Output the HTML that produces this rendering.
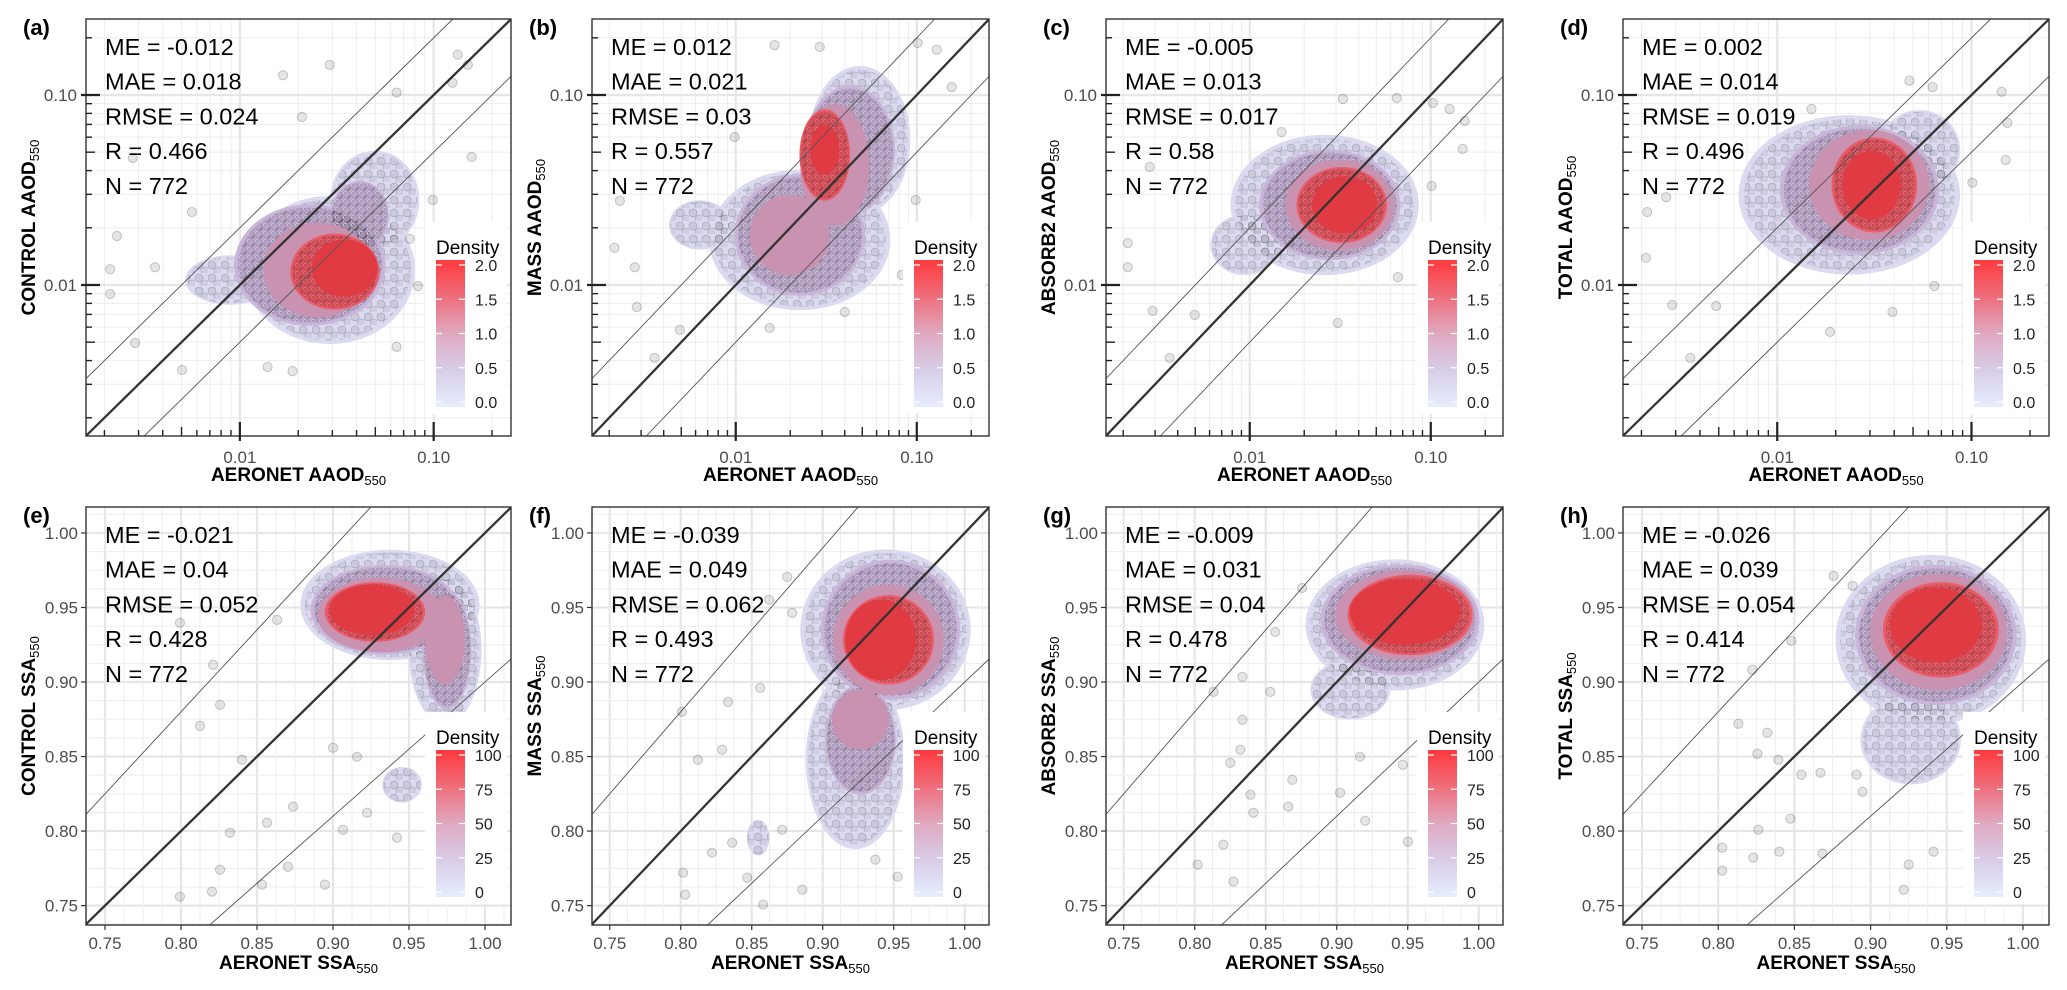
<!DOCTYPE html>
<html><head><meta charset="utf-8"><title>AAOD / SSA evaluation</title>
<style>
html,body{margin:0;padding:0;background:#fff;width:2067px;height:990px;overflow:hidden;}
svg{display:block;position:absolute;left:0;top:0;font-family:"Liberation Sans",Arial,sans-serif;}
</style></head>
<body>
<svg id="fig" width="2067" height="990" viewBox="0 0 2067 990" xmlns="http://www.w3.org/2000/svg">
<defs>
<linearGradient id="cbar" x1="0" y1="1" x2="0" y2="0">
<stop offset="0" stop-color="#e6eefe"/><stop offset="0.25" stop-color="#d8cde8"/>
<stop offset="0.5" stop-color="#e0a9c0"/><stop offset="0.75" stop-color="#ee6e7c"/>
<stop offset="1" stop-color="#ff3a3e"/></linearGradient>
<pattern id="dots1" width="13" height="13" patternUnits="userSpaceOnUse"><circle cx="4" cy="5" r="4" fill="rgba(0,0,0,0.08)" stroke="rgba(0,0,0,0.18)" stroke-width="0.8"/><circle cx="10" cy="11" r="4" fill="rgba(0,0,0,0.06)" stroke="rgba(0,0,0,0.15)" stroke-width="0.8"/></pattern>
<pattern id="dots2" width="8" height="8" patternUnits="userSpaceOnUse"><circle cx="3" cy="3" r="3.6" fill="rgba(0,0,0,0.10)" stroke="rgba(0,0,0,0.2)" stroke-width="0.8"/><circle cx="7" cy="7" r="3.4" fill="rgba(0,0,0,0.08)" stroke="rgba(0,0,0,0.18)" stroke-width="0.8"/></pattern>
</defs>
</svg>
<script>
// ---------- data ----------
const panelIds = ['a','b','c','d','e','f','g','h'];
const modelNames = ['CONTROL','MASS','ABSORB2','TOTAL','CONTROL','MASS','ABSORB2','TOTAL'];
const statME   = ['-0.012','0.012','-0.005','0.002','-0.021','-0.039','-0.009','-0.026'];
const statMAE  = ['0.018','0.021','0.013','0.014','0.04','0.049','0.031','0.039'];
const statRMSE = ['0.024','0.03','0.017','0.019','0.052','0.062','0.04','0.054'];
const statR    = ['0.466','0.557','0.58','0.496','0.428','0.493','0.478','0.414'];
const statN    = ['772','772','772','772','772','772','772','772'];
const aaodTicks = [0.01, 0.10];
const aaodTickLabels = ['0.01','0.10'];
const ssaTicks = [0.75,0.80,0.85,0.90,0.95,1.00];
const ssaTickLabels = ['0.75','0.80','0.85','0.90','0.95','1.00'];
const aaodLegendTicks = [0,0.5,1.0,1.5,2.0];
const aaodLegendLabels = ['0.0','0.5','1.0','1.5','2.0'];
const ssaLegendTicks = [0,25,50,75,100];
const ssaLegendLabels = ['0','25','50','75','100'];

// density blobs: [centerX, centerY, radiusX, radiusY, level]; AAOD panels in log10 units
const blobsA = [[-1.536,-1.921,.44,.39,1],[-1.304,-1.553,.23,.26,1],[-2.052,-1.974,.23,.13,1],[-1.639,-1.895,.39,.32,2],[-1.381,-1.632,.15,.18,2],[-1.598,-1.921,.28,.25,3],[-1.51,-1.93,.23,.2,4],[-1.459,-1.911,.17,.15,5]];
const blobsB = [[-1.315,-1.237,.28,.39,1],[-1.646,-1.763,.5,.37,1],[-2.199,-1.684,.17,.13,1],[-1.37,-1.29,.25,.34,2],[-1.646,-1.737,.36,.32,2],[-1.453,-1.368,.19,.32,3],[-1.702,-1.737,.22,.21,3],[-1.508,-1.316,.14,.24,4],[-1.508,-1.29,.08,.13,5]];
const blobsC = [[-1.586,-1.579,.52,.37,1],[-2.028,-1.789,.19,.16,1],[-1.558,-1.579,.39,.29,2],[-1.503,-1.579,.30,.24,3],[-1.492,-1.579,.25,.2,4],[-1.475,-1.579,.18,.15,5]];
const blobsD = [[-1.629,-1.526,.57,.42,1],[-1.268,-1.289,.21,.21,1],[-1.577,-1.5,.41,.34,2],[-1.526,-1.474,.31,.29,3],[-1.5,-1.474,.22,.25,4],[-1.515,-1.474,.15,.18,5]];
const blobsE = [[.9375,.9517,.059,.037,1],[.9737,.9216,.024,.05,1],[.9454,.8311,.013,.012,1],[.9342,.9484,.049,.03,2],[.975,.9216,.016,.04,2],[.9309,.945,.041,.025,3],[.9737,.9283,.013,.03,3],[.9276,.947,.033,.02,4],[.9257,.9484,.028,.017,5]];
const blobsF = [[.9442,.935,.06,.054,1],[.923,.8479,.035,.06,1],[.8545,.7956,.008,.012,1],[.9477,.935,.049,.047,2],[.9266,.8613,.025,.037,2],[.9463,.9283,.039,.037,3],[.9266,.8747,.02,.02,3],[.9463,.9283,.032,.03,4],[.9407,.9283,.025,.027,5]];
const blobsG = [[.941,.9383,.063,.044,1],[.9094,.8948,.028,.02,1],[.9445,.9417,.056,.037,2],[.948,.945,.049,.03,3],[.9516,.945,.044,.027,4],[.948,.947,.039,.022,5]];
const blobsH = [[.9395,.9283,.0625,.057,1],[.9263,.8613,.033,.03,1],[.9428,.9316,.053,.047,2],[.9447,.9336,.045,.039,3],[.9461,.935,.038,.032,4],[.9428,.9383,.03,.025,5]];

// scattered observations (AERONET x, model y)
const ptsAx = [0.0291,0.0167,0.133,0.150,0.125,0.0644,0.0209,0.157,0.0028,0.00232,0.00214,0.00214,0.00288,0.00503,0.0139,0.0187,0.0644,0.0828,0.0989,0.00566,0.00365,0.0752];
const ptsAy = [0.144,0.127,0.163,0.144,0.116,0.103,0.0766,0.0472,0.0466,0.0181,0.0121,0.00897,0.00495,0.00357,0.0037,0.00352,0.00472,0.00988,0.028,0.0242,0.0124,0.0175];
const ptsBx = [0.0164,0.0291,0.101,0.129,0.156,0.0986,0.0826,0.00214,0.00277,0.00284,0.00356,0.00491,0.0154,0.04,0.00229,0.00987];
const ptsBy = [0.183,0.179,0.188,0.173,0.110,0.028,0.0113,0.0157,0.0124,0.00766,0.00413,0.0058,0.00594,0.00721,0.0277,0.0601];
const ptsCx = [0.0327,0.0649,0.1026,0.127,0.154,0.150,0.101,0.0658,0.0028,0.00212,0.00212,0.00291,0.00361,0.00497,0.0306,0.015];
const ptsCy = [0.0953,0.0964,0.0908,0.0844,0.0730,0.052,0.0332,0.0110,0.0418,0.0166,0.0124,0.0073,0.00413,0.00695,0.00631,0.0638];
const ptsDx = [0.0479,0.063,0.143,0.153,0.150,0.101,0.0644,0.00214,0.00211,0.00288,0.00357,0.00485,0.0187,0.0392,0.015,0.00268];
const ptsDy = [0.119,0.110,0.104,0.0713,0.0455,0.0345,0.00988,0.0242,0.0139,0.00785,0.00413,0.00775,0.00566,0.00721,0.0844,0.029];
const ptsEx = [.7993,.8211,.8257,.8125,.8401,.8322,.8257,.7993,.8204,.8533,.8947,.8704,.9421,.9224,.9066,.8737,.9,.9158,.8632,.8566];
const ptsEy = [.9397,.9115,.8847,.8706,.8479,.7989,.7741,.756,.7594,.7641,.7641,.7761,.7956,.8123,.8009,.8164,.8559,.8499,.9417,.8056];
const ptsFx = [.875,.8623,.8785,.8333,.8008,.8121,.8291,.8362,.8016,.803,.858,.8468,.8856,.9371,.9527,.822,.8559,.8715];
const ptsFy = [.9705,.9551,.9464,.8867,.88,.8479,.8546,.7922,.7721,.7574,.7507,.7688,.7607,.7808,.7694,.7855,.8961,.8009];
const ptsGx = [.8757,.8567,.8336,.8132,.8532,.8336,.8322,.8251,.8392,.8413,.8659,.8202,.802,.8272,.9024,.92,.9501,.9164,.9466,.8687];
const ptsGy = [.9631,.9336,.9035,.8934,.8934,.8747,.8546,.8458,.8244,.8123,.8164,.7909,.7775,.7661,.8257,.8069,.7929,.8499,.8445,.8344];
const ptsHx = [.8757,.8882,.848,.8224,.8132,.8322,.8257,.8395,.8546,.8671,.8908,.8947,.8263,.8474,.8026,.8026,.823,.8401,.8684,.9217,.9414,.925];
const ptsHy = [.9712,.9645,.9276,.9082,.872,.866,.8519,.8479,.8378,.8391,.8378,.8264,.8009,.8083,.7889,.7735,.7822,.7862,.7849,.7607,.7862,.7775];

const allBlobs = [blobsA,blobsB,blobsC,blobsD,blobsE,blobsF,blobsG,blobsH];
const allPtsX = [ptsAx,ptsBx,ptsCx,ptsDx,ptsEx,ptsFx,ptsGx,ptsHx];
const allPtsY = [ptsAy,ptsBy,ptsCy,ptsDy,ptsEy,ptsFy,ptsGy,ptsHy];

// ---------- layout ----------
const colL = [86,592,1106,1623], colR = [511,989,1503,2049];
const rowT = [19,507], rowB = [436,925];
const levelFill = ['', '#dcdaf0', '#c8b5d8', '#c992b1', '#ea5c67', '#e03a43'];
const NS = 'http://www.w3.org/2000/svg';
const svg = document.getElementById('fig');
function mk(tag, attrs, parent){
  const e = document.createElementNS(NS, tag);
  for (const k in attrs) e.setAttribute(k, attrs[k]);
  (parent||svg).appendChild(e); return e;
}

for (let p = 0; p < 8; p++) {
  const col = p % 4, row = p < 4 ? 0 : 1, isLog = row === 0;
  const L = colL[col], R = colR[col], T = rowT[row], B = rowB[row];
  const xd = isLog ? [-2.794,-0.601] : [0.7375,1.0171];
  const yd = isLog ? [-2.795,-0.6] : [0.737,1.0174];
  const tx = v => isLog ? Math.log10(v) : v;
  const X = u => L + (u - xd[0]) / (xd[1]-xd[0]) * (R-L);
  const Y = u => B - (u - yd[0]) / (yd[1]-yd[0]) * (B-T);
  const sx = (R-L)/(xd[1]-xd[0]), sy = (B-T)/(yd[1]-yd[0]);

  const g = mk('g', {});
  
  
  const clipId = 'clip' + p;
  const cp = mk('clipPath', {id: clipId}, g);
  mk('rect', {x:L, y:T, width:R-L, height:B-T}, cp);

  // grid
  const grid = mk('g', {'clip-path':'url(#'+clipId+')'}, g);
  
  
  if (isLog) {
    for (let k = -3; k <= -1; k++) for (let m = 1; m <= 9; m++) {
      const u = Math.log10(m * Math.pow(10, k));
      const w = m === 1 ? 2.2 : 1, c = m === 1 ? '#e6e6e6' : '#ededed';
      if (u > xd[0] && u < xd[1]) mk('line', {x1:X(u), x2:X(u), y1:T, y2:B, stroke:c, 'stroke-width':w}, grid);
      if (u > yd[0] && u < yd[1]) mk('line', {y1:Y(u), y2:Y(u), x1:L, x2:R, stroke:c, 'stroke-width':w}, grid);
    }
  } else {
    for (let i = 0; i <= 22; i++) {
      const u = 0.7375 + i * 0.0125;
      const major = Math.abs((u*100) % 5) < 0.01 || Math.abs((u*100) % 5 - 5) < 0.01;
      const w = major ? 2.2 : 1, c = major ? '#e6e6e6' : '#ededed';
      mk('line', {x1:X(u), x2:X(u), y1:T, y2:B, stroke:c, 'stroke-width':w}, grid);
      mk('line', {y1:Y(u), y2:Y(u), x1:L, x2:R, stroke:c, 'stroke-width':w}, grid);
    }
  }

  // density blobs
  const dens = mk('g', {'clip-path':'url(#'+clipId+')'}, g);
  
  
  const blobs = allBlobs[p];
  for (let lv = 1; lv <= 5; lv++) {
    blobs.filter(b => b[4] === lv).forEach(b => {
      const e = mk('ellipse', {cx:X(b[0]), cy:Y(b[1]), rx:b[2]*sx, ry:b[3]*sy, fill:levelFill[lv]}, dens);
      
      
    });
    if (lv === 1 || lv === 2 || lv === 4) {
      blobs.filter(b => b[4] === lv).forEach(b => {
        const e = mk('ellipse', {cx:X(b[0]), cy:Y(b[1]), rx:b[2]*sx*0.95, ry:b[3]*sy*0.95, fill: lv === 1 ? 'url(#dots1)' : 'url(#dots2)'}, dens);
        
        
      });
    }
  }

  // reference lines (clipped analytically to plot box)
  const lines = mk('g', {'clip-path':'url(#'+clipId+')'}, g);
  const fac = isLog ? [Math.log10(2), 0, -Math.log10(2)] : [1.1, 1, 0.9];
  fac.forEach((f, i) => {
    const fy = isLog ? (x => x + f) : (x => x * f);
    const fx = isLog ? (y => y - f) : (y => y / f);
    const x1 = Math.max(xd[0], fx(yd[0])), x2 = Math.min(xd[1], fx(yd[1]));
    if (x2 <= x1) return;
    const ln = mk('line', {x1:X(x1), y1:Y(fy(x1)), x2:X(x2), y2:Y(fy(x2)), stroke: i===1 ? '#333' : '#555', 'stroke-width': i===1 ? 2.3 : 0.9}, lines);
    
    
  });

  // points
  const pg = mk('g', {'clip-path':'url(#'+clipId+')'}, g);
  const px = allPtsX[p], py = allPtsY[p];
  for (let i = 0; i < px.length; i++) {
    const c = mk('circle', {cx:X(tx(px[i])), cy:Y(tx(py[i])), r:4.6, fill:'rgba(0,0,0,0.1)', stroke:'rgba(0,0,0,0.2)', 'stroke-width':1}, pg);
    
    
  }

  // legend
  const lg = mk('g', {}, g);
  
  
  const lt = row === 0 ? 222 : 712;
  mk('rect', {x:R-86, y:lt, width:82, height:192, fill:'#fff'}, lg);
  const lgTitle = mk('text', {x:R-75, y:lt+32, 'font-size':19, fill:'#000'}, lg);
  lgTitle.textContent = 'Density';
  const cbT = lt + 38, cbB = lt + 185, cbL = R-75, cbW = 29;
  mk('rect', {x:cbL, y:cbT, width:cbW, height:cbB-cbT, fill:'url(#cbar)'}, lg);
  const lv = row === 0 ? aaodLegendTicks : ssaLegendTicks;
  const ll = row === 0 ? aaodLegendLabels : ssaLegendLabels;
  const lmax = lv[lv.length-1];
  const cy = v => (cbB-5) - v/lmax * (cbB-cbT-10);
  lv.forEach((v, i) => {
    mk('line', {x1:cbL, x2:cbL+6, y1:cy(v), y2:cy(v), stroke:'#fff', 'stroke-width':1.2}, lg);
    mk('line', {x1:cbL+cbW-6, x2:cbL+cbW, y1:cy(v), y2:cy(v), stroke:'#fff', 'stroke-width':1.2}, lg);
    const t = mk('text', {x:cbL+cbW+10, y:cy(v)+6, 'font-size':16, fill:'#222'}, lg);
    t.textContent = ll[i];
  });

  // border
  const bd = mk('rect', {x:L, y:T, width:R-L, height:B-T, fill:'none', stroke:'#333', 'stroke-width':1.4}, g);
  
  

  // ticks & labels
  const ax = mk('g', {}, g);
  
  
  if (isLog) {
    for (let k = -3; k <= -1; k++) for (let m = 1; m <= 9; m++) {
      const u = Math.log10(m * Math.pow(10, k));
      const inL = m === 1 ? 14 : (m === 5 ? 9 : 6), out = m === 1 ? 5 : 0, w = m === 1 ? 2.2 : 1.4;
      if (u > xd[0] && u < xd[1]) mk('line', {x1:X(u), x2:X(u), y1:B+out, y2:B-inL, stroke:'#222', 'stroke-width':w}, ax);
      if (u > yd[0] && u < yd[1]) mk('line', {y1:Y(u), y2:Y(u), x1:L-out, x2:L+inL, stroke:'#222', 'stroke-width':w}, ax);
    }
    aaodTicks.forEach((v, i) => {
      const t1 = mk('text', {x:X(Math.log10(v)), y:B+27, 'font-size':17, fill:'#4d4d4d', 'text-anchor':'middle'}, ax);
      t1.textContent = aaodTickLabels[i];
      const t2 = mk('text', {x:L-9, y:Y(Math.log10(v))+6, 'font-size':17, fill:'#4d4d4d', 'text-anchor':'end'}, ax);
      t2.textContent = aaodTickLabels[i];
    });
  } else {
    ssaTicks.forEach((v, i) => {
      mk('line', {x1:X(v), x2:X(v), y1:B, y2:B+5, stroke:'#333', 'stroke-width':1.2}, ax);
      mk('line', {y1:Y(v), y2:Y(v), x1:L-5, x2:L, stroke:'#333', 'stroke-width':1.2}, ax);
      const t1 = mk('text', {x:X(v), y:B+24, 'font-size':17, fill:'#4d4d4d', 'text-anchor':'middle'}, ax);
      t1.textContent = ssaTickLabels[i];
      const t2 = mk('text', {x:L-8, y:Y(v)+6, 'font-size':17, fill:'#4d4d4d', 'text-anchor':'end'}, ax);
      t2.textContent = ssaTickLabels[i];
    });
  }
  const qty = isLog ? 'AAOD' : 'SSA';
  const xt = mk('text', {x:(L+R)/2, y:row===0 ? 481 : 969, 'font-size':19, 'font-weight':'bold', fill:'#000', 'text-anchor':'middle'}, g);
  
  
  xt.innerHTML = 'AERONET ' + qty + '<tspan font-size="13" font-weight="normal" dy="4">550</tspan>';
  const ycx = L - 58, ycy = (T+B)/2;
  const yt = mk('text', {x:ycx, y:ycy, 'font-size':19, 'font-weight':'bold', fill:'#000', 'text-anchor':'middle', transform:'rotate(-90 '+ycx+' '+ycy+')', dy:7}, g);
  
  
  yt.innerHTML = modelNames[p] + ' ' + qty + '<tspan font-size="13" font-weight="normal" dy="4">550</tspan>';

  // panel label
  const pl = mk('text', {x:L-63, y:T+16, 'font-size':22, 'font-weight':'bold', fill:'#000'}, g);
  
  
  pl.textContent = '(' + panelIds[p] + ')';

  // stats
  const st = mk('g', {}, g);
  
  
  const lines5 = ['ME = ' + statME[p], 'MAE = ' + statMAE[p], 'RMSE = ' + statRMSE[p], 'R = ' + statR[p], 'N = ' + statN[p]];
  lines5.forEach((s, i) => {
    const t = mk('text', {x:L+19, y:T + 36 + i*34.7, 'font-size':23.5, fill:'#000'}, st);
    t.textContent = s;
  });
}
</script>
</body></html>
